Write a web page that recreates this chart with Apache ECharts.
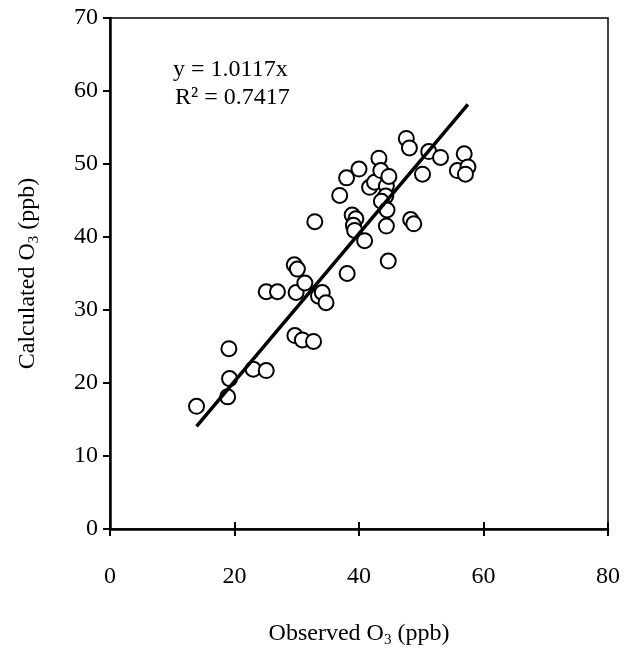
<!DOCTYPE html>
<html>
<head>
<meta charset="utf-8">
<script src="https://cdn.jsdelivr.net/npm/echarts@6/dist/echarts.min.js"></script>
<style>html,body{margin:0;padding:0;background:#fff}#c{width:629px;height:653px}</style>
</head>
<body>
<div id="c"></div>
<script>
var observed = [13.9,18.9,19.2,19.1,23.0,25.1,25.1,26.9,29.7,30.9,32.7,29.9,29.6,30.1,31.3,32.9,33.5,34.1,34.7,38.1,36.9,38.0,40.0,38.9,39.5,39.1,39.3,40.9,41.7,42.5,43.2,43.5,44.4,44.8,44.3,43.6,44.5,44.4,44.7,47.6,48.1,48.3,48.8,50.2,51.2,53.1,55.8,56.9,57.5,57.1];
var calculated = [16.8,18.1,20.6,24.7,21.9,21.7,32.5,32.5,26.5,25.9,25.7,32.4,36.2,35.6,33.7,42.1,31.9,32.4,31.0,35.0,45.7,48.1,49.3,43.0,42.5,41.6,40.9,39.5,46.8,47.5,50.8,49.1,47.0,48.3,45.6,44.9,43.7,41.5,36.7,53.5,52.2,42.4,41.8,48.6,51.7,50.9,49.1,51.4,49.6,48.6];
var slope = 1.0117;
var r2 = 0.7417;
var xTicks = [0,20,40,60,80];
var yTicks = [0,10,20,30,40,50,60,70];

var pts = observed.map(function(v,i){return [v, calculated[i]];});
var xMin = Math.min.apply(null, observed), xMax = Math.max.apply(null, observed);
var trend = [[xMin, slope*xMin],[xMax, slope*xMax]];

var font = '"Liberation Serif", "Times New Roman", serif';
var chart = echarts.init(document.getElementById('c'), null, {renderer:'canvas'});
var rich = {a:{fontSize:24,fontFamily:font,color:'#000'},s:{fontSize:15,fontFamily:font,color:'#000',verticalAlign:'bottom',padding:[14,0,0,0]}};
chart.setOption({
  animation:false,
  backgroundColor:'#fff',
  textStyle:{fontFamily:font},
  grid:{left:110,right:21,top:18,bottom:121,show:true,borderColor:'#000',borderWidth:1.5,backgroundColor:'transparent'},
  xAxis:[{
    type:'value',min:xTicks[0],max:xTicks[xTicks.length-1],interval:20,
    axisLine:{show:true,onZero:false,lineStyle:{color:'#000',width:2.5}},
    axisTick:{show:true,length:7,lineStyle:{color:'#000',width:2}},
    axisLabel:{color:'#000',fontSize:24,fontFamily:font,margin:36},
    splitLine:{show:false},
    name:'{a|Observed O}{s|3}{a| (ppb)}',nameLocation:'middle',nameGap:90,
    nameTextStyle:{rich:rich}
  },{
    type:'value',min:xTicks[0],max:xTicks[xTicks.length-1],interval:20,position:'bottom',
    axisLine:{show:false},
    axisTick:{show:true,inside:true,length:7,lineStyle:{color:'#000',width:2}},
    axisLabel:{show:false},splitLine:{show:false}
  }],
  yAxis:{
    type:'value',min:yTicks[0],max:yTicks[yTicks.length-1],interval:10,
    axisLine:{show:true,onZero:false,lineStyle:{color:'#000',width:2.5}},
    axisTick:{show:true,length:7,lineStyle:{color:'#000',width:2}},
    axisLabel:{color:'#000',fontSize:24,fontFamily:font,margin:12},
    splitLine:{show:false},
    name:'{a|Calculated O}{s|3}{a| (ppb)}',nameLocation:'middle',nameGap:68,nameRotate:90,
    nameTextStyle:{rich:rich}
  },
  series:[{
    type:'scatter',data:pts,symbol:'circle',symbolSize:15,
    itemStyle:{color:'#fff',borderColor:'#000',borderWidth:2,opacity:1},
    z:2
  },{
    type:'line',data:trend,symbol:'none',lineStyle:{color:'#000',width:3.5},z:3
  }],
  graphic:[
    {type:'text',left:173,top:58,style:{text:'y = ' + slope.toFixed(4) + 'x',font:'24px "Liberation Serif", serif',fill:'#000'}},
    {type:'text',left:175,top:86,style:{text:'R² = ' + r2.toFixed(4),font:'24px "Liberation Serif", serif',fill:'#000'}}
  ]
});
</script>
</body>
</html>
